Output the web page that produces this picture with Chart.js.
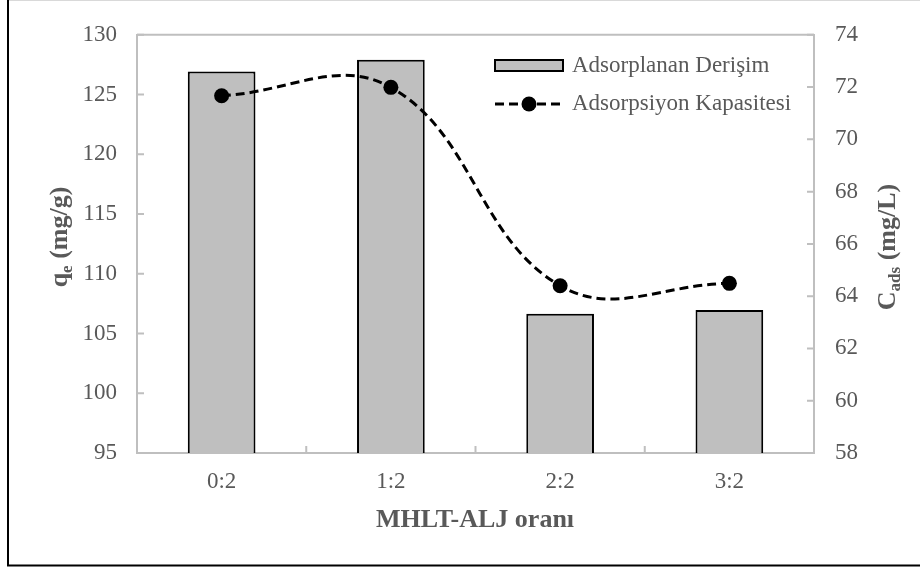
<!DOCTYPE html>
<html>
<head>
<meta charset="utf-8">
<script src="https://cdn.jsdelivr.net/npm/chart.js@4/dist/chart.umd.min.js"></script>
<style>
  body { margin: 0; background: #fff; }
  canvas { display: block; }
</style>
</head>
<body>
<canvas id="chart" width="920" height="570"></canvas>
<script>
// values
const categories = ['0:2', '1:2', '2:2', '3:2'];
const concentration = [72.6, 73.05, 63.33, 63.47];   // C_ads (mg/L), bars, right axis
const capacity = [124.9, 125.6, 109.0, 109.2];      // q_e (mg/g), line, left axis
const leftTicks = [95, 100, 105, 110, 115, 120, 125, 130];
const rightTicks = [58, 60, 62, 64, 66, 68, 70, 72, 74];

const TEXT = '#595959';
const AXIS = '#bfbfbf';
const FONT = '"Liberation Serif", "Times New Roman", serif';

// frame, plot box, inner tick marks, legend and axis titles
const extras = {
  id: 'extras',
  beforeDraw(chart) {
    const c = chart.ctx;
    c.save();
    c.fillStyle = '#fff';
    c.fillRect(0, 0, chart.width, chart.height);
    c.restore();
  },
  afterDraw(chart) {
    const c = chart.ctx;
    const a = chart.chartArea;
    const yL = chart.scales.yL, yR = chart.scales.yR, x = chart.scales.x;
    c.save();

    // outer frame
    c.strokeStyle = '#d9d9d9';
    c.lineWidth = 1;
    c.beginPath(); c.moveTo(8, 0.5); c.lineTo(920, 0.5); c.stroke();
    c.strokeStyle = '#000';
    c.lineWidth = 2;
    c.beginPath(); c.moveTo(8, 0); c.lineTo(8, 565.5); c.lineTo(920, 565.5); c.stroke();

    // top of plot box
    c.strokeStyle = AXIS;
    c.lineWidth = 2;
    c.beginPath(); c.moveTo(a.left, a.top); c.lineTo(a.right, a.top); c.stroke();

    // inner tick marks
    c.beginPath();
    leftTicks.forEach(v => { const py = yL.getPixelForValue(v); c.moveTo(a.left, py); c.lineTo(a.left + 7, py); });
    rightTicks.forEach(v => { const py = yR.getPixelForValue(v); c.moveTo(a.right, py); c.lineTo(a.right - 7, py); });
    for (let i = 1; i < categories.length; i++) {
      const px = (x.getPixelForValue(i - 1) + x.getPixelForValue(i)) / 2;
      c.moveTo(px, a.bottom); c.lineTo(px, a.bottom - 7);
    }
    c.stroke();

    // legend
    c.fillStyle = '#bfbfbf';
    c.fillRect(495, 60, 68, 11);
    c.strokeStyle = '#000';
    c.lineWidth = 2;
    c.strokeRect(495, 60, 68, 11);
    c.setLineDash([9, 5]);
    c.lineWidth = 3;
    c.beginPath(); c.moveTo(495, 104); c.lineTo(563, 104); c.stroke();
    c.setLineDash([]);
    c.fillStyle = '#000';
    c.beginPath(); c.arc(529, 104, 7.5, 0, Math.PI * 2); c.fill();
    c.fillStyle = TEXT;
    c.font = '23px ' + FONT;
    c.textBaseline = 'middle';
    c.textAlign = 'left';
    c.fillText('Adsorplanan Derişim', 572, 66);
    c.fillText('Adsorpsiyon Kapasitesi', 572, 104);

    // x axis title
    c.font = 'bold 26px ' + FONT;
    c.textAlign = 'center';
    c.textBaseline = 'alphabetic';
    c.fillText('MHLT-ALJ oranı', 475, 527);

    // rotated titles with subscripts
    const vTitle = (cx, cy, main, sub, rest) => {
      c.save();
      c.translate(cx, cy);
      c.rotate(-Math.PI / 2);
      const big = 'bold 26px ' + FONT, small = 'bold 17px ' + FONT;
      c.font = big; const w1 = c.measureText(main).width; const w3 = c.measureText(rest).width;
      c.font = small; const w2 = c.measureText(sub).width;
      let sx = -(w1 + w2 + w3) / 2;
      c.textAlign = 'left';
      c.font = big; c.fillText(main, sx, 0); sx += w1;
      c.font = small; c.fillText(sub, sx, 5); sx += w2;
      c.font = big; c.fillText(rest, sx, 0);
      c.restore();
    };
    vTitle(67, 237, 'q', 'e', ' (mg/g)');
    vTitle(895, 247, 'C', 'ads', ' (mg/L)');

    c.restore();
  }
};

new Chart(document.getElementById('chart'), {
  data: {
    labels: categories,
    datasets: [
      {
        type: 'line',
        label: 'Adsorpsiyon Kapasitesi',
        data: capacity,
        yAxisID: 'yL',
        order: 0,
        borderColor: '#000',
        borderWidth: 3,
        borderDash: [9, 5],
        tension: 0.4,
        pointRadius: 7.5,
        pointBackgroundColor: '#000',
        pointBorderWidth: 0
      },
      {
        type: 'bar',
        label: 'Adsorplanan Derişim',
        data: concentration,
        yAxisID: 'yR',
        order: 1,
        backgroundColor: '#bfbfbf',
        borderColor: '#000',
        borderWidth: 2,
        borderSkipped: 'bottom',
        categoryPercentage: 1,
        barPercentage: 0.4
      }
    ]
  },
  options: {
    responsive: false,
    animation: false,
    layout: { padding: { top: 29, left: 0, right: 0, bottom: 0 } },
    plugins: {
      legend: { display: false },
      tooltip: { enabled: false }
    },
    scales: {
      x: {
        grid: { display: false, drawTicks: false },
        border: { color: AXIS, width: 2 },
        ticks: { color: TEXT, font: { family: FONT, size: 23 }, padding: 15 },
        afterFit: s => { s.height = 117; }
      },
      yL: {
        position: 'left',
        min: 95, max: 130,
        grid: { display: false, drawTicks: false },
        border: { color: AXIS, width: 2 },
        ticks: { stepSize: 5, color: TEXT, font: { family: FONT, size: 23 }, padding: 20 },
        afterFit: s => { s.width = 137; }
      },
      yR: {
        position: 'right',
        min: 58, max: 74,
        grid: { display: false, drawTicks: false },
        border: { color: AXIS, width: 2 },
        ticks: { stepSize: 2, color: TEXT, font: { family: FONT, size: 23 }, padding: 21 },
        afterFit: s => { s.width = 106; }
      }
    }
  },
  plugins: [extras]
});
</script>
</body>
</html>
